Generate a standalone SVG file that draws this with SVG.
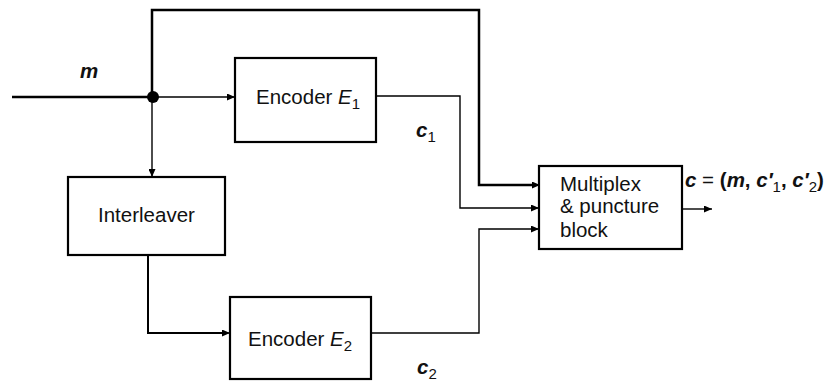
<svg xmlns="http://www.w3.org/2000/svg" width="830" height="381" viewBox="0 0 830 381">
<style>
.box{fill:#fff;stroke:#000;stroke-width:2.2}
.lbl{font-family:"Liberation Sans",Arial,sans-serif;font-size:20.5px;fill:#111}
.var{font-family:"Liberation Sans",Arial,sans-serif;font-size:20.5px;font-weight:bold;font-style:italic;fill:#111}
.sub{font-size:15px;font-weight:normal;font-style:normal}
.w{fill:none;stroke:#000;stroke-width:1.4}
.t{fill:none;stroke:#000;stroke-width:2.5}
</style>
<defs>
<marker id="ah" markerUnits="userSpaceOnUse" markerWidth="9" markerHeight="7" refX="8" refY="3.5" orient="auto">
<path d="M0,0 L8,3.5 L0,7 Z" fill="#000"/>
</marker>
</defs>
<g id="connectors">
<line class="t" x1="12" y1="97" x2="152" y2="97"/>
<polyline class="t" points="152,97 152,10 479,10 479,185 532,185"/>
<line class="w" x1="152" y1="97" x2="235" y2="97" marker-end="url(#ah)"/>
<line class="w" x1="152" y1="97" x2="152" y2="177" marker-end="url(#ah)"/>
<polyline class="w" points="376,96 460,96 460,208 539,208" marker-end="url(#ah)"/>
<polyline class="w" points="371,333 479,333 479,229 539,229" marker-end="url(#ah)"/>
<polyline class="t" points="148,255 148,333 222,333" style="stroke-width:2"/>
<line class="w" x1="222" y1="333" x2="230" y2="333" marker-end="url(#ah)"/>
<line class="w" x1="532" y1="185" x2="540" y2="185" marker-end="url(#ah)"/>
<line class="w" x1="682" y1="209" x2="712" y2="209" marker-end="url(#ah)"/>
<circle cx="153" cy="97" r="6" fill="#000"/>
</g>
<g id="encoder1">
<rect class="box" x="235" y="58" width="141" height="84"/>
<text class="lbl" x="256" y="104">Encoder <tspan font-style="italic">E</tspan><tspan class="sub" dy="5">1</tspan></text>
</g>
<g id="interleaver">
<rect class="box" x="68" y="177" width="157" height="78"/>
<text class="lbl" x="98" y="222">Interleaver</text>
</g>
<g id="encoder2">
<rect class="box" x="230" y="297" width="141" height="82"/>
<text class="lbl" x="248" y="346">Encoder <tspan font-style="italic">E</tspan><tspan class="sub" dy="5">2</tspan></text>
</g>
<g id="multiplex">
<rect class="box" x="539" y="166" width="143" height="83"/>
<text class="lbl" x="560" y="191">Multiplex</text>
<text class="lbl" x="560" y="213">&amp; puncture</text>
<text class="lbl" x="560" y="237">block</text>
</g>
<g id="labels">
<text class="var" x="80" y="78">m</text>
<text class="var" x="416" y="137">c<tspan class="sub" dy="5">1</tspan></text>
<text class="var" x="417" y="374">c<tspan class="sub" dy="5">2</tspan></text>
<text class="var" x="685" y="187">c <tspan font-weight="normal" font-style="normal">=</tspan> <tspan font-style="normal">(</tspan>m<tspan font-style="normal">,</tspan> c′<tspan class="sub" dy="5">1</tspan><tspan dy="-5" font-style="normal">,</tspan> c′<tspan class="sub" dy="5">2</tspan><tspan dy="-5" font-style="normal">)</tspan></text>
</g>
</svg>
